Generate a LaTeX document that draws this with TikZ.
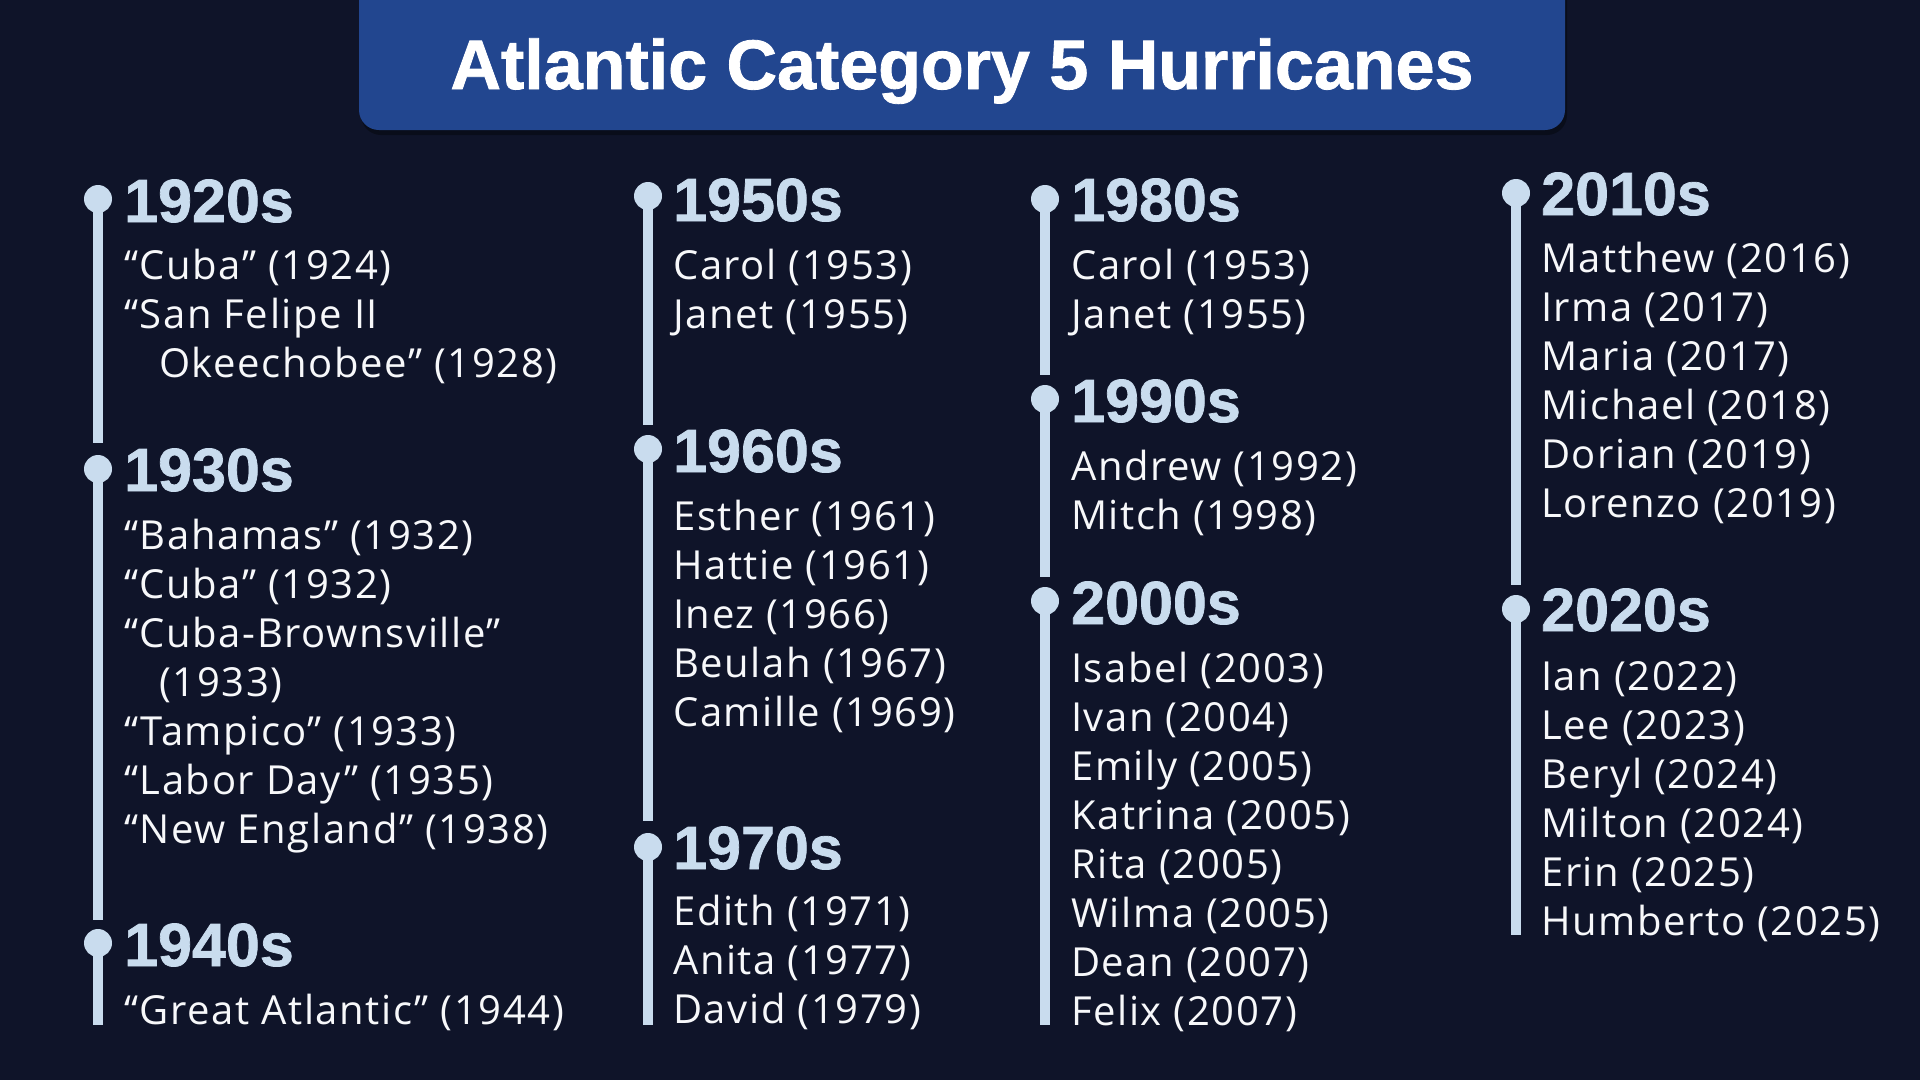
\documentclass[tikz,border=0pt]{standalone}
\usepackage{fontspec}
\setmainfont{Open Sans}
\definecolor{bgc}{HTML}{0F1429}
\definecolor{titlec}{HTML}{22468F}
\definecolor{accent}{HTML}{C9DCEE}
\definecolor{itemc}{HTML}{F7F8FA}
\newfontfamily\itemfam{Open Sans}[LetterSpace=4]
\newfontfamily\boldfam{Liberation Sans Bold}[FakeBold=1.2]
\newcommand\headfont{\boldfam\fontsize{61}{61}\selectfont}
\newcommand\itemfont{\itemfam\fontsize{40}{40}\selectfont}
\newcommand\titlefont{\boldfam\fontsize{70}{70}\selectfont}
\tikzset{
  head/.style={anchor=base west, inner sep=0pt, text=accent, font=\headfont},
  item/.style={anchor=base west, inner sep=0pt, text=itemc, font=\itemfont},
  dotc/.style={circle, fill=accent, inner sep=0pt, minimum size=28pt},
  tline/.style={draw=accent, line width=9.5pt},
}
\begin{document}
\begin{tikzpicture}[x=1pt,y=-1pt]
\useasboundingbox (0,0) rectangle (1920,1080);
\fill[bgc] (0,0) rectangle (1920,1080);
% title
\fill[black, opacity=0.35, rounded corners=20pt] (361,-30) rectangle (1567,135);
\fill[titlec, rounded corners=20pt] (359,-30) rectangle (1565,130);
\node[anchor=base, inner sep=0pt, text=white, font=\titlefont] (title) at (962,89) {Atlantic Category 5 Hurricanes};

% ---------- column 1 ----------
\coordinate (e20) at (98,443);
\coordinate (e30) at (98,920);
\coordinate (e40) at (98,1025);
\draw[tline] (98,199) -- (e20);
\draw[tline] (98,469) -- (e30);
\draw[tline] (98,943) -- (e40);
\node[dotc] (d20) at (98,199) {};
\node[dotc] (d30) at (98,469) {};
\node[dotc] (d40) at (98,943) {};
\node[head] (h20) at (124,222) {1920s};
\node[item] (i20a) at (124,279) {“Cuba” (1924)};
\node[item] (i20b) at (124,328) {“San Felipe II};
\node[item] (i20c) at (159,377) {Okeechobee” (1928)};
\node[head] (h30) at (124,491) {1930s};
\node[item] (i30a) at (124,549) {“Bahamas” (1932)};
\node[item] (i30b) at (124,598) {“Cuba” (1932)};
\node[item] (i30c) at (124,647) {“Cuba-Brownsville”};
\node[item] (i30d) at (159,696) {(1933)};
\node[item] (i30e) at (124,745) {“Tampico” (1933)};
\node[item] (i30f) at (124,794) {“Labor Day” (1935)};
\node[item] (i30g) at (124,843) {“New England” (1938)};
\node[head] (h40) at (124,966) {1940s};
\node[item] (i40a) at (124,1024) {“Great Atlantic” (1944)};

% ---------- column 2 ----------
\coordinate (e50) at (648,425);
\coordinate (e60) at (648,821);
\coordinate (e70) at (648,1025);
\draw[tline] (648,196) -- (e50);
\draw[tline] (648,449) -- (e60);
\draw[tline] (648,847) -- (e70);
\node[dotc] (d50) at (648,196) {};
\node[dotc] (d60) at (648,449) {};
\node[dotc] (d70) at (648,847) {};
\node[head] (h50) at (673,221) {1950s};
\node[item] (i50a) at (673,279) {Carol (1953)};
\node[item] (i50b) at (673,328) {Janet (1955)};
\node[head] (h60) at (673,472) {1960s};
\node[item] (i60a) at (673,530) {Esther (1961)};
\node[item] (i60b) at (673,579) {Hattie (1961)};
\node[item] (i60c) at (673,628) {Inez (1966)};
\node[item] (i60d) at (673,677) {Beulah (1967)};
\node[item] (i60e) at (673,726) {Camille (1969)};
\node[head] (h70) at (673,869) {1970s};
\node[item] (i70a) at (673,925) {Edith (1971)};
\node[item] (i70b) at (673,974) {Anita (1977)};
\node[item] (i70c) at (673,1023) {David (1979)};

% ---------- column 3 ----------
\coordinate (e80) at (1045,375);
\coordinate (e90) at (1045,577);
\coordinate (e00) at (1045,1025);
\draw[tline] (1045,199) -- (e80);
\draw[tline] (1045,399) -- (e90);
\draw[tline] (1045,601) -- (e00);
\node[dotc] (d80) at (1045,199) {};
\node[dotc] (d90) at (1045,399) {};
\node[dotc] (d00) at (1045,601) {};
\node[head] (h80) at (1071,221) {1980s};
\node[item] (i80a) at (1071,279) {Carol (1953)};
\node[item] (i80b) at (1071,328) {Janet (1955)};
\node[head] (h90) at (1071,422) {1990s};
\node[item] (i90a) at (1071,480) {Andrew (1992)};
\node[item] (i90b) at (1071,529) {Mitch (1998)};
\node[head] (h00) at (1071,624) {2000s};
\node[item] (i00a) at (1071,682) {Isabel (2003)};
\node[item] (i00b) at (1071,731) {Ivan (2004)};
\node[item] (i00c) at (1071,780) {Emily (2005)};
\node[item] (i00d) at (1071,829) {Katrina (2005)};
\node[item] (i00e) at (1071,878) {Rita (2005)};
\node[item] (i00f) at (1071,927) {Wilma (2005)};
\node[item] (i00g) at (1071,976) {Dean (2007)};
\node[item] (i00h) at (1071,1025) {Felix (2007)};

% ---------- column 4 ----------
\coordinate (e10) at (1516,585);
\coordinate (e2x) at (1516,935);
\draw[tline] (1516,193) -- (e10);
\draw[tline] (1516,609) -- (e2x);
\node[dotc] (d10) at (1516,193) {};
\node[dotc] (d2x) at (1516,609) {};
\node[head] (h10) at (1541,215) {2010s};
\node[item] (i10a) at (1541,272) {Matthew (2016)};
\node[item] (i10b) at (1541,321) {Irma (2017)};
\node[item] (i10c) at (1541,370) {Maria (2017)};
\node[item] (i10d) at (1541,419) {Michael (2018)};
\node[item] (i10e) at (1541,468) {Dorian (2019)};
\node[item] (i10f) at (1541,517) {Lorenzo (2019)};
\node[head] (h2x) at (1541,631) {2020s};
\node[item] (i2xa) at (1541,690) {Ian (2022)};
\node[item] (i2xb) at (1541,739) {Lee (2023)};
\node[item] (i2xc) at (1541,788) {Beryl (2024)};
\node[item] (i2xd) at (1541,837) {Milton (2024)};
\node[item] (i2xe) at (1541,886) {Erin (2025)};
\node[item] (i2xf) at (1541,935) {Humberto (2025)};
\end{tikzpicture}
\end{document}
